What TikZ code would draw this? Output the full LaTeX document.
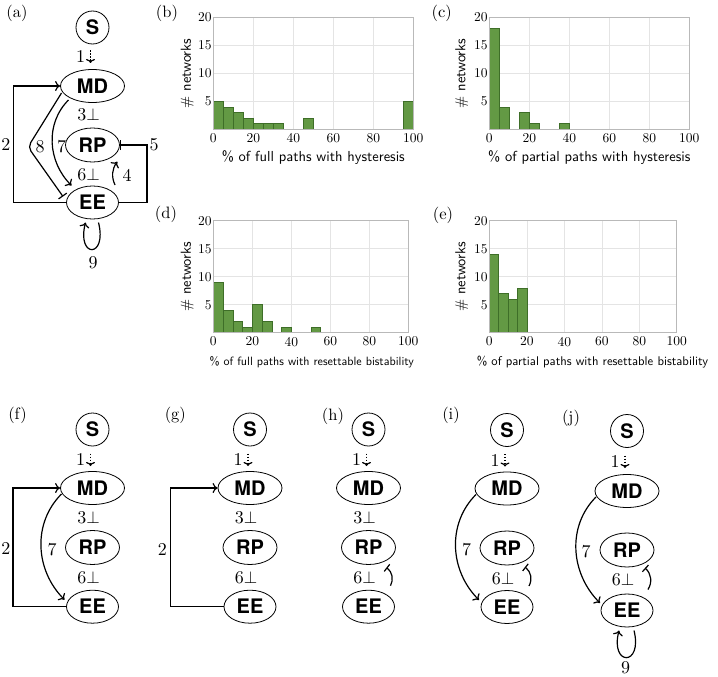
\documentclass[tikz,border=0pt]{standalone}
\usepackage{fontspec}
\setmainfont{lmroman10-regular.otf}
\setsansfont{lmsans10-regular.otf}
\newfontfamily\herosfam{TeX Gyre Heros}
\usetikzlibrary{shapes.geometric,arrows.meta,calc}
\definecolor{barfill}{RGB}{99,153,68}
\definecolor{baredge}{RGB}{62,110,40}
\definecolor{gridc}{RGB}{228,228,228}
\definecolor{framec}{RGB}{185,185,185}
\newcommand\nodefnt{\herosfam\bfseries\fontsize{20}{22}\selectfont}
\newcommand\elabfnt{\fontsize{18}{20}\selectfont}
\newcommand\plabfnt{\fontsize{16.5}{18}\selectfont}
\newcommand\tickfnt{\fontsize{13.5}{14}\selectfont}
\newcommand\axfnt{\sffamily\fontsize{14.5}{16}\selectfont}
\newcommand\axfntsm{\sffamily\fontsize{12}{14}\selectfont}
\newcommand\axfntme{\sffamily\fontsize{12.6}{14}\selectfont}
\tikzset{
  net/.style={draw, line width=0.8pt, font=\nodefnt, inner sep=0pt},
  snode/.style={net, circle, minimum size=33pt},
  mdnode/.style={net, ellipse, minimum width=64pt, minimum height=33pt},
  rpnode/.style={net, ellipse, minimum width=54pt, minimum height=34pt},
  eenode/.style={net, ellipse, minimum width=52pt, minimum height=33pt},
  elab/.style={font=\elabfnt, inner sep=0pt},
  plab/.style={font=\plabfnt, inner sep=0pt},
  arr/.style={line width=1.2pt, -{To[length=5pt,width=10pt]}},
  inh/.style={line width=1.2pt, -{Bar[width=10pt]}},
  inhs/.style={line width=1.2pt, -{Bar[width=9pt]}},
  dotarr/.style={line width=1.2pt, dash pattern=on 1.4pt off 1.6pt, -{To[length=4pt,width=9pt]}},
  gridline/.style={draw=gridc, line width=0.6pt},
  frame/.style={draw=framec, line width=0.8pt},
  hbar/.style={fill=barfill, draw=baredge, line width=0.6pt},
  tick/.style={font=\tickfnt, inner sep=1.5pt},
  axlab/.style={font=\axfnt, inner sep=0pt},
  axlabsm/.style={font=\axfntsm, inner sep=0pt},
  axlabme/.style={font=\axfntme, inner sep=0pt},
}
\begin{document}
\begin{tikzpicture}[x=1pt,y=1pt]
\useasboundingbox (0,0) rectangle (718,-677);
\fill[white] (0,0) rectangle (718,-677);

% ---------------- panel labels
\node[plab] (la) at (17,-13) {(a)};
\node[plab] (lb) at (167,-13) {(b)};
\node[plab] (lc) at (441.7,-13) {(c)};
\node[plab] (ld) at (166,-214) {(d)};
\node[plab] (le) at (443,-215) {(e)};
\node[plab] (lf) at (17.5,-415) {(f)};
\node[plab] (lg) at (175.3,-415) {(g)};
\node[plab] (lh) at (333,-416.5) {(h)};
\node[plab] (li) at (451,-415) {(i)};
\node[plab] (lj) at (571,-418) {(j)};

% ---------------- histogram (b)
\begin{scope}[shift={(213.3,-129.3)}, x=2pt, y=5.6pt]
  \foreach \v in {20,40,60,80} \draw[gridline] (\v,0) -- (\v,20);
  \foreach \v in {5,10,15} \draw[gridline] (0,\v) -- (100,\v);
  \foreach \a/\h in {0/5,5/4,10/3,15/2,20/1,25/1,30/1,45/2,95/5}
    \draw[hbar] (\a,0) rectangle ++(5,\h);
  \draw[frame] (0,0) rectangle (100,20);
  \foreach \v in {0,20,40,60,80,100}
    \node[tick, anchor=north, inner sep=2.5pt, yshift=-1.5pt] (bx\v) at (\v,0) {\v};
  \foreach \v in {5,10,15,20}
    \node[tick, anchor=east] (by\v) at (0,\v) {\v};
  \node[axlab, rotate=90] (bylab) at (-13,10) {\# networks};
  \node[axlab] (bxlab) at (50,-5.1) {\% of full paths with hysteresis};
\end{scope}

% ---------------- histogram (c)
\begin{scope}[shift={(489.3,-129.3)}, x=2pt, y=5.6pt]
  \foreach \v in {20,40,60,80} \draw[gridline] (\v,0) -- (\v,20);
  \foreach \v in {5,10,15} \draw[gridline] (0,\v) -- (100,\v);
  \foreach \a/\h in {0/18,5/4,15/3,20/1,35/1}
    \draw[hbar] (\a,0) rectangle ++(5,\h);
  \draw[frame] (0,0) rectangle (100,20);
  \foreach \v in {0,20,40,60,80,100}
    \node[tick, anchor=north, inner sep=2.5pt, yshift=-1.5pt] (cx\v) at (\v,0) {\v};
  \foreach \v in {5,10,15,20}
    \node[tick, anchor=east] (cy\v) at (0,\v) {\v};
  \node[axlab, rotate=90] (cylab) at (-13.8,10) {\# networks};
  \node[axlab] (cxlab) at (50,-5.1) {\% of partial paths with hysteresis};
\end{scope}

% ---------------- histogram (d)
\begin{scope}[shift={(213.3,-332.7)}, x=1.95pt, y=5.6pt]
  \foreach \v in {20,40,60,80} \draw[gridline] (\v,0) -- (\v,20);
  \foreach \v in {5,10,15} \draw[gridline] (0,\v) -- (100,\v);
  \foreach \a/\h in {0/9,5/4,10/2,15/1,20/5,25/2,35/1,50/1}
    \draw[hbar] (\a,0) rectangle ++(5,\h);
  \draw[frame] (0,0) rectangle (100,20);
  \foreach \v in {0,20,40,60,80,100}
    \node[tick, anchor=north, inner sep=2.5pt, yshift=-1.5pt] (dx\v) at (\v,0) {\v};
  \foreach \v in {5,10,15,20}
    \node[tick, anchor=east] (dy\v) at (0,\v) {\v};
  \node[axlab, rotate=90] (dylab) at (-13.3,10) {\# networks};
  \node[axlabsm] (dxlab) at (50.5,-5.2) {\% of full paths with resettable bistability};
\end{scope}

% ---------------- histogram (e)
\begin{scope}[shift={(489.3,-332.7)}, x=1.875pt, y=5.6pt]
  \foreach \v in {20,40,60,80} \draw[gridline] (\v,0) -- (\v,20);
  \foreach \v in {5,10,15} \draw[gridline] (0,\v) -- (100,\v);
  \foreach \a/\h in {0/14,5/7,10/6,15/8}
    \draw[hbar] (\a,0) rectangle ++(5,\h);
  \draw[frame] (0,0) rectangle (100,20);
  \foreach \v in {0,20,40,60,80,100}
    \node[tick, anchor=north, inner sep=2.5pt, yshift=-1.5pt] (ex\v) at (\v,0) {\v};
  \foreach \v in {5,10,15,20}
    \node[tick, anchor=east] (ey\v) at (0,\v) {\v};
  \node[axlab, rotate=90] (eylab) at (-14.7,10) {\# networks};
  \node[axlabme] (exlab) at (55,-5.2) {\% of partial paths with resettable bistability};
\end{scope}

% ---------------- network (a)
\node[snode] (aS) at (92.5,-27.5) {S};
\node[mdnode] (aMD) at (92.5,-86) {MD};
\node[rpnode] (aRP) at (92.5,-145) {RP};
\node[eenode] (aEE) at (92.5,-202.5) {EE};
\node[elab] (a1) at (80.5,-57) {1};
\draw[dotarr] ([xshift=10pt,yshift=6.5pt]a1.center) -- ++(0,-12.5);
\node[elab, anchor=east] (a3) at (100,-115) {3$\perp$};
\node[elab, anchor=east] (a6) at (100,-175) {6$\perp$};
\draw[arr] (aEE.west) -- ++(-52.5,0) |- (aMD.west);
\node[elab] (a2) at (6,-145) {2};
\coordinate (a8k) at (28,-147);
\draw[inh, rounded corners=5pt] ($(aMD.center)+(-31,-7)$) -- (a8k) -- ($(aEE.center)+(-29.5,6)$);
\node[elab] (a8) at (40,-147) {8};
\draw[arr] ($(aMD.center)+(-24,-14)$) to[out=225,in=135] ($(aEE.center)+(-21,17)$);
\node[elab] (a7) at (61.7,-147) {7};
\draw[inh] (aEE.east) -- ++(28,0) |- (aRP.east);
\node[elab] (a5) at (154,-145) {5};
\draw[arr] ($(aEE.center)+(22.5,17.5)$) to[bend left=30] ($(aRP.center)+(24.8,-16.7)$);
\node[elab] (a4) at (127,-175) {4};
\draw[arr] ($(aEE.center)+(6,-20)$) .. controls +(9,-36) and +(-9,-36) .. ($(aEE.center)+(-7,-20)$);
\node[elab] (a9) at (93,-263) {9};

% ---------------- network (f)
\node[snode] (fS) at (92.5,-429.5) {S};
\node[mdnode] (fMD) at (92.5,-488) {MD};
\node[rpnode] (fRP) at (92.5,-547.5) {RP};
\node[eenode] (fEE) at (92.5,-606.7) {EE};
\node[elab] (f1) at (80.5,-460) {1};
\draw[dotarr] ([xshift=10pt,yshift=6.5pt]f1.center) -- ++(0,-12.5);
\node[elab, anchor=east] (f3) at (100,-518) {3$\perp$};
\node[elab, anchor=east] (f6) at (100,-578) {6$\perp$};
\draw[arr] (fEE.west) -- ++(-53.2,0) |- (fMD.west);
\node[elab] (f2) at (6,-549) {2};
\draw[arr] ($(fMD.center)+(-31,-6)$) to[out=225,in=135] ($(fEE.center)+(-28,7)$);
\node[elab] (f7) at (52,-550) {7};

% ---------------- network (g)
\node[snode] (gS) at (250,-429.5) {S};
\node[mdnode] (gMD) at (250,-488) {MD};
\node[rpnode] (gRP) at (250,-547.5) {RP};
\node[eenode] (gEE) at (250,-606.7) {EE};
\node[elab] (g1) at (238,-460) {1};
\draw[dotarr] ([xshift=10pt,yshift=6.5pt]g1.center) -- ++(0,-12.5);
\node[elab, anchor=east] (g3) at (257.5,-518) {3$\perp$};
\node[elab, anchor=east] (g6) at (257.5,-578) {6$\perp$};
\draw[arr] (gEE.west) -- ++(-53,0) |- (gMD.west);
\node[elab] (g2) at (162.3,-549.3) {2};

% ---------------- network (h)
\node[snode] (hS) at (368.5,-429.5) {S};
\node[mdnode] (hMD) at (368.5,-488) {MD};
\node[rpnode] (hRP) at (368.5,-547.5) {RP};
\node[eenode] (hEE) at (368.5,-606.7) {EE};
\node[elab] (h1) at (356.5,-460) {1};
\draw[dotarr] ([xshift=10pt,yshift=6.5pt]h1.center) -- ++(0,-12.5);
\node[elab, anchor=east] (h3) at (376,-518) {3$\perp$};
\node[elab, anchor=east] (h6) at (376,-578) {6$\perp$};
\draw[inhs] ($(hEE.center)+(22,21)$) to[bend right=40] ($(hRP.center)+(18,-20)$);

% ---------------- network (i)
\node[snode] (iS) at (507,-430) {S};
\node[mdnode] (iMD) at (507,-488.5) {MD};
\node[rpnode] (iRP) at (507,-548) {RP};
\node[eenode] (iEE) at (507,-607) {EE};
\node[elab] (i1) at (495,-460.5) {1};
\draw[dotarr] ([xshift=10pt,yshift=6.5pt]i1.center) -- ++(0,-12.5);
\node[elab, anchor=east] (i6) at (514.5,-578.3) {6$\perp$};
\draw[arr] ($(iMD.center)+(-31,-6)$) to[out=225,in=135] ($(iEE.center)+(-28,7)$);
\node[elab] (i7) at (466.7,-550) {7};
\draw[inhs] ($(iEE.center)+(22,21)$) to[bend right=40] ($(iRP.center)+(18,-19)$);

% ---------------- network (j)
\node[snode] (jS) at (627,-431) {S};
\node[mdnode] (jMD) at (627,-491) {MD};
\node[rpnode] (jRP) at (627,-550) {RP};
\node[eenode] (jEE) at (627,-610.5) {EE};
\node[elab] (j1) at (615,-462) {1};
\draw[dotarr] ([xshift=10pt,yshift=6.5pt]j1.center) -- ++(0,-12.5);
\node[elab, anchor=east] (j6) at (634.5,-580) {6$\perp$};
\draw[arr] ($(jMD.center)+(-31,-6)$) to[out=225,in=135] ($(jEE.center)+(-27,7.5)$);
\node[elab] (j7) at (586,-552) {7};
\draw[inhs] ($(jEE.center)+(21,21)$) to[bend right=40] ($(jRP.center)+(18,-18)$);
\draw[arr] ($(jEE.center)+(7,-20)$) .. controls +(9,-36) and +(-9,-36) .. ($(jEE.center)+(-8,-20)$);
\node[elab] (j9) at (625.7,-668) {9};
\end{tikzpicture}
\end{document}
